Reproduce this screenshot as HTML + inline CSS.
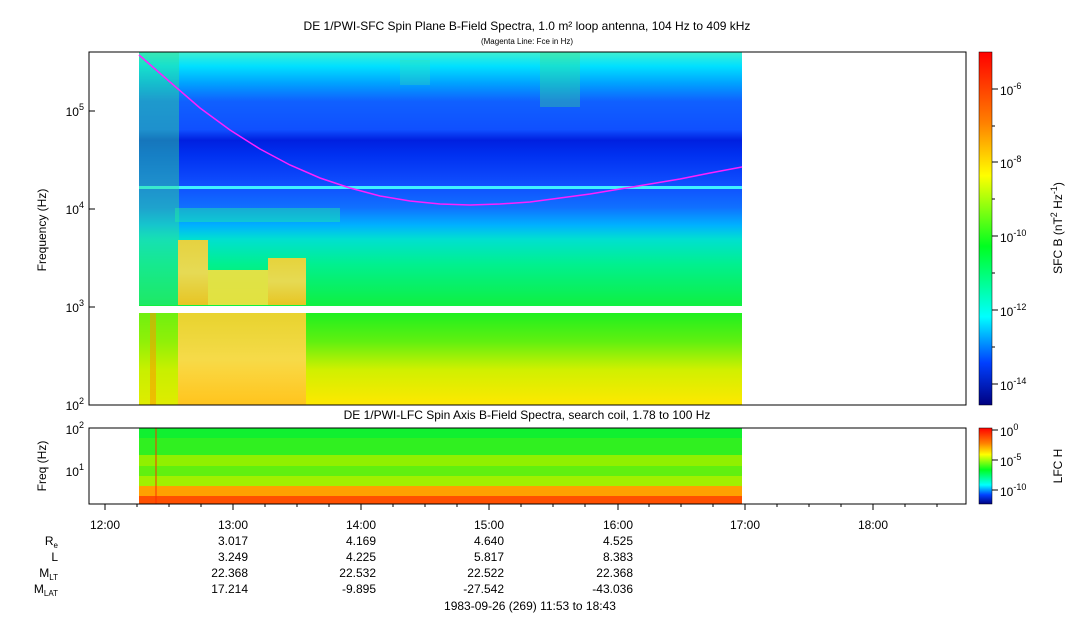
<!DOCTYPE html>
<html><head><style>
body{margin:0;background:#fff;}
svg text{font-family:"Liberation Sans",sans-serif;fill:#000;}
</style></head><body>
<svg width="1083" height="620" xmlns="http://www.w3.org/2000/svg">
<defs>
<linearGradient id="mainV" x1="0" y1="52" x2="0" y2="405" gradientUnits="userSpaceOnUse">
<stop offset="0" stop-color="#40f0d0"/>
<stop offset="0.04" stop-color="#00e0ff"/>
<stop offset="0.09" stop-color="#00a0ff"/>
<stop offset="0.14" stop-color="#1060ff"/>
<stop offset="0.22" stop-color="#1050ff"/>
<stop offset="0.25" stop-color="#0020e0"/>
<stop offset="0.29" stop-color="#0030f0"/>
<stop offset="0.38" stop-color="#1050ff"/>
<stop offset="0.44" stop-color="#1070ff"/>
<stop offset="0.49" stop-color="#00b0ff"/>
<stop offset="0.53" stop-color="#00e0d0"/>
<stop offset="0.60" stop-color="#00f090"/>
<stop offset="0.72" stop-color="#10f040"/>
<stop offset="0.72" stop-color="#fff"/>
<stop offset="0.74" stop-color="#fff"/>
<stop offset="0.74" stop-color="#20f020"/>
<stop offset="0.82" stop-color="#60f010"/>
<stop offset="0.90" stop-color="#d0f000"/>
<stop offset="1" stop-color="#ffe800"/>
</linearGradient>
<linearGradient id="cb" x1="0" y1="0" x2="0" y2="1">
<stop offset="0" stop-color="#ff0000"/>
<stop offset="0.2" stop-color="#ff8000"/>
<stop offset="0.35" stop-color="#ffff00"/>
<stop offset="0.55" stop-color="#00ff20"/>
<stop offset="0.75" stop-color="#00ffff"/>
<stop offset="0.88" stop-color="#0040ff"/>
<stop offset="1" stop-color="#000080"/>
</linearGradient>
<linearGradient id="blob" x1="0" y1="0" x2="0" y2="1">
<stop offset="0" stop-color="#ffd030"/>
<stop offset="0.5" stop-color="#ffd850"/>
<stop offset="1" stop-color="#ffc020"/>
</linearGradient>
</defs>
<text x="527" y="30" font-size="12" text-anchor="middle">DE 1/PWI-SFC  Spin Plane B-Field Spectra, 1.0 m² loop antenna, 104 Hz to 409 kHz</text>
<text x="527" y="44" font-size="8" text-anchor="middle">(Magenta Line: Fce in Hz)</text>
<rect x="139" y="52" width="603" height="353" fill="url(#mainV)"/>
<rect x="139" y="186" width="603" height="3" fill="#40f0ff"/>
<rect x="139" y="52" width="40" height="253" fill="#30e090" opacity="0.45"/>
<rect x="139" y="313" width="40" height="92" fill="#c0f000" opacity="0.5"/>
<rect x="175" y="208" width="165" height="14" fill="#20f0a0" opacity="0.45"/>
<rect x="178" y="240" width="30" height="65" fill="url(#blob)" opacity="0.9"/>
<rect x="208" y="270" width="60" height="35" fill="#f8e040" opacity="0.9"/>
<rect x="268" y="258" width="38" height="47" fill="url(#blob)" opacity="0.9"/>
<rect x="178" y="313" width="128" height="92" fill="url(#blob)" opacity="0.9"/>
<rect x="150" y="313" width="6" height="92" fill="#ff9000" opacity="0.5"/>
<rect x="540" y="52" width="40" height="55" fill="#40e080" opacity="0.35"/>
<rect x="400" y="60" width="30" height="25" fill="#40e0a0" opacity="0.3"/>
<polyline fill="none" stroke="#ff20ff" stroke-width="1.5" points="139,55 170,82 200,108 230,130 260,149 290,165 320,178 350,188 380,196 410,201 440,204 470,205 500,204 530,202 560,198 590,194 620,189 650,184 680,179 710,173 742,167"/>
<rect x="89" y="52" width="877" height="353" fill="none" stroke="#000"/>
<g stroke="#000">
<line x1="89" y1="405" x2="95" y2="405"/><line x1="89" y1="307" x2="95" y2="307"/><line x1="89" y1="209" x2="95" y2="209"/><line x1="89" y1="111" x2="95" y2="111"/>
</g>
<g font-size="12" text-anchor="end">
<text x="84" y="410">10<tspan dy="-6" font-size="9">2</tspan></text>
<text x="84" y="312">10<tspan dy="-6" font-size="9">3</tspan></text>
<text x="84" y="214">10<tspan dy="-6" font-size="9">4</tspan></text>
<text x="84" y="116">10<tspan dy="-6" font-size="9">5</tspan></text>
</g>
<text transform="translate(46,230) rotate(-90)" font-size="12" text-anchor="middle">Frequency (Hz)</text>
<text x="527" y="419" font-size="12" text-anchor="middle">DE 1/PWI-LFC  Spin Axis B-Field Spectra, search coil, 1.78 to 100 Hz</text>
<rect x="139" y="428" width="603" height="10" fill="#10f030"/>
<rect x="139" y="438" width="603" height="17" fill="#30f020"/>
<rect x="139" y="455" width="603" height="11" fill="#90f000"/>
<rect x="139" y="466" width="603" height="10" fill="#60f010"/>
<rect x="139" y="476" width="603" height="10" fill="#a0f000"/>
<rect x="139" y="486" width="603" height="10" fill="#ffa000"/>
<rect x="139" y="496" width="603" height="8" fill="#ff5000"/>
<rect x="155" y="428" width="2" height="76" fill="#ff3000" opacity="0.5"/>
<rect x="89" y="428" width="877" height="76" fill="none" stroke="#000"/>
<g font-size="12" text-anchor="end">
<text x="84" y="434">10<tspan dy="-6" font-size="9">2</tspan></text>
<text x="84" y="476">10<tspan dy="-6" font-size="9">1</tspan></text>
</g>
<text transform="translate(46,466) rotate(-90)" font-size="12" text-anchor="middle">Freq (Hz)</text>
<g stroke="#000">
<line x1="105" y1="504" x2="105" y2="510"/><line x1="233" y1="504" x2="233" y2="510"/><line x1="361" y1="504" x2="361" y2="510"/><line x1="489" y1="504" x2="489" y2="510"/><line x1="618" y1="504" x2="618" y2="510"/><line x1="745" y1="504" x2="745" y2="510"/><line x1="873" y1="504" x2="873" y2="510"/>
<line x1="137" y1="504" x2="137" y2="507"/><line x1="169" y1="504" x2="169" y2="507"/><line x1="201" y1="504" x2="201" y2="507"/>
<line x1="265" y1="504" x2="265" y2="507"/><line x1="297" y1="504" x2="297" y2="507"/><line x1="329" y1="504" x2="329" y2="507"/>
<line x1="393" y1="504" x2="393" y2="507"/><line x1="425" y1="504" x2="425" y2="507"/><line x1="457" y1="504" x2="457" y2="507"/>
<line x1="521" y1="504" x2="521" y2="507"/><line x1="553" y1="504" x2="553" y2="507"/><line x1="585" y1="504" x2="585" y2="507"/>
<line x1="649" y1="504" x2="649" y2="507"/><line x1="681" y1="504" x2="681" y2="507"/><line x1="713" y1="504" x2="713" y2="507"/>
<line x1="777" y1="504" x2="777" y2="507"/><line x1="809" y1="504" x2="809" y2="507"/><line x1="841" y1="504" x2="841" y2="507"/>
<line x1="905" y1="504" x2="905" y2="507"/><line x1="937" y1="504" x2="937" y2="507"/>
</g>
<g font-size="12" text-anchor="middle">
<text x="105" y="529">12:00</text><text x="233" y="529">13:00</text><text x="361" y="529">14:00</text><text x="489" y="529">15:00</text><text x="618" y="529">16:00</text><text x="745" y="529">17:00</text><text x="873" y="529">18:00</text>
</g>
<g font-size="12" text-anchor="end">
<text x="58" y="545">R<tspan font-size="8" dy="3">e</tspan></text>
<text x="58" y="561">L</text>
<text x="58" y="577">M<tspan font-size="8" dy="3">LT</tspan></text>
<text x="58" y="593">M<tspan font-size="8" dy="3">LAT</tspan></text>
<text x="248" y="545">3.017</text><text x="376" y="545">4.169</text><text x="504" y="545">4.640</text><text x="633" y="545">4.525</text>
<text x="248" y="561">3.249</text><text x="376" y="561">4.225</text><text x="504" y="561">5.817</text><text x="633" y="561">8.383</text>
<text x="248" y="577">22.368</text><text x="376" y="577">22.532</text><text x="504" y="577">22.522</text><text x="633" y="577">22.368</text>
<text x="248" y="593">17.214</text><text x="376" y="593">-9.895</text><text x="504" y="593">-27.542</text><text x="633" y="593">-43.036</text>
</g>
<text x="530" y="610" font-size="12" text-anchor="middle">1983-09-26 (269) 11:53 to 18:43</text>
<rect x="979" y="52" width="13" height="353" fill="url(#cb)" stroke="#000" stroke-width="0.5"/>
<rect x="979" y="428" width="13" height="76" fill="url(#cb)" stroke="#000" stroke-width="0.5"/>
<g stroke="#000">
<line x1="992" y1="89" x2="998" y2="89"/><line x1="992" y1="162" x2="998" y2="162"/><line x1="992" y1="236" x2="998" y2="236"/><line x1="992" y1="310" x2="998" y2="310"/><line x1="992" y1="384" x2="998" y2="384"/>
<line x1="992" y1="126" x2="995" y2="126"/><line x1="992" y1="199" x2="995" y2="199"/><line x1="992" y1="273" x2="995" y2="273"/><line x1="992" y1="347" x2="995" y2="347"/>
<line x1="992" y1="430" x2="998" y2="430"/><line x1="992" y1="460" x2="998" y2="460"/><line x1="992" y1="490" x2="998" y2="490"/>
</g>
<g font-size="12">
<text x="1000" y="95">10<tspan dy="-6" font-size="9">-6</tspan></text>
<text x="1000" y="168">10<tspan dy="-6" font-size="9">-8</tspan></text>
<text x="1000" y="242">10<tspan dy="-6" font-size="9">-10</tspan></text>
<text x="1000" y="316">10<tspan dy="-6" font-size="9">-12</tspan></text>
<text x="1000" y="390">10<tspan dy="-6" font-size="9">-14</tspan></text>
<text x="1000" y="436">10<tspan dy="-6" font-size="9">0</tspan></text>
<text x="1000" y="466">10<tspan dy="-6" font-size="9">-5</tspan></text>
<text x="1000" y="496">10<tspan dy="-6" font-size="9">-10</tspan></text>
</g>
<text transform="translate(1062,228) rotate(-90)" font-size="12" text-anchor="middle">SFC B (nT<tspan dy="-5" font-size="9">2</tspan><tspan dy="5"> Hz</tspan><tspan dy="-5" font-size="9">-1</tspan><tspan dy="5">)</tspan></text>
<text transform="translate(1062,466) rotate(-90)" font-size="12" text-anchor="middle">LFC H</text>
</svg>
</body></html>
